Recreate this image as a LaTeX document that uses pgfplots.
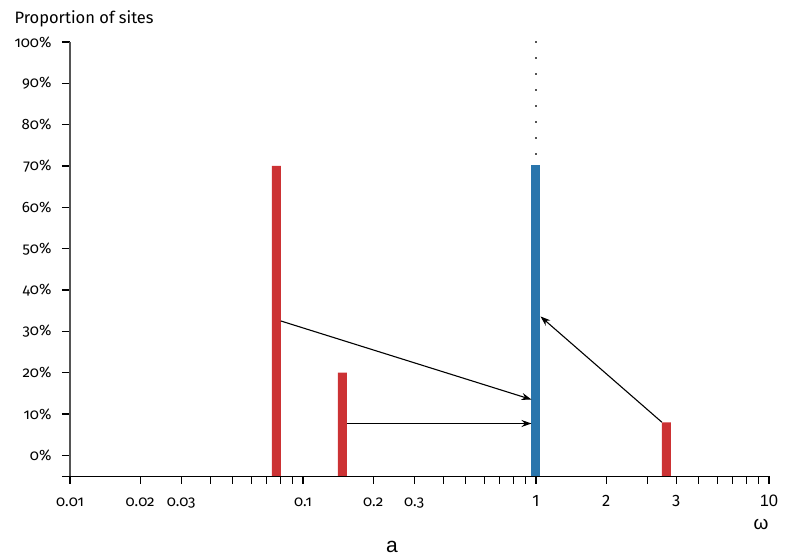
\documentclass[border=0pt]{standalone}
\usepackage{pgfplots}
\pgfplotsset{compat=1.18}
\usetikzlibrary{arrows.meta}
\usepackage{fontspec}
\setmainfont{Fira Sans}[Numbers=OldStyle]
\newfontfamily\arialfont{Liberation Sans}
\newcommand{\lin}[1]{{\fontsize{16.5bp}{18bp}\selectfont\addfontfeature{Numbers=Lining}#1}}
\definecolor{barred}{RGB}{204,50,52}
\definecolor{barblue}{RGB}{41,117,172}
\definecolor{axgray}{RGB}{85,85,85}
\begin{document}
\begin{tikzpicture}
\path[use as bounding box] (0,0) rectangle (785bp,555bp);
\begin{axis}[
  at={(70bp,79bp)}, anchor=south west,
  scale only axis, width=699bp, height=434bp,
  xmode=log, xmin=0.01, xmax=10,
  ymin=-5, ymax=100,
  y coord trafo/.code={\pgfmathparse{#1+5}},
  y coord inv trafo/.code={\pgfmathparse{#1-5}},
  axis x line=bottom, axis y line=left,
  x axis line style={-, black, line width=0.9bp, shorten <=-8bp},
  y axis line style={-, axgray, line width=1.2bp},
  xtick={0.01,0.02,0.03,0.04,0.05,0.06,0.07,0.08,0.09,0.1,0.2,0.3,0.4,0.5,0.6,0.7,0.8,0.9,1,2,3,4,5,6,7,8,9,10},
  xticklabels={0.01,0.02,0.03,,,,,,,0.1,0.2,0.3,,,,,,,\lin{1},\lin{2},,\lin{3},,,,,,{\arialfont\fontsize{16.5bp}{18bp}\selectfont 10}},
  minor xtick={},
  ytick={0,10,20,30,40,50,60,70,80,90,100},
  yticklabels={0\%,10\%,20\%,30\%,40\%,50\%,60\%,70\%,80\%,90\%,100\%},
  tick style={black, line width=1.2bp},
  xtick align=outside, ytick align=outside,
  major tick length=8bp,
  tick label style={font=\fontsize{15bp}{17bp}\selectfont},
  xticklabel style={yshift=-8bp, anchor=base, yshift=-14bp},
  yticklabel style={xshift=-7bp},
  clip=false,
]
\addplot[ybar, bar width=9bp, fill=barred, draw=none] coordinates {(0.0769,70) (0.1475,20) (3.63,8)};
\addplot[ybar, bar width=9bp, fill=barblue, draw=none] coordinates {(1,70.2)};
\addplot[axgray, line width=2bp, dash pattern=on 2bp off 14bp] coordinates {(1,100.2) (1,72)};
\draw[-{Stealth[length=10bp,width=7bp]}, line width=1.1bp] ([xshift=4.5bp]axis cs:0.0769,32.5) -- ([xshift=-4.5bp]axis cs:1,13.5);
\draw[-{Stealth[length=10bp,width=7bp]}, line width=1.1bp] ([xshift=4.5bp]axis cs:0.1475,7.7) -- ([xshift=-4.5bp]axis cs:1,7.7);
\draw[-{Stealth[length=10bp,width=7bp]}, line width=1.1bp] ([xshift=-4.5bp]axis cs:3.63,8) -- ([xshift=4.5bp]axis cs:1,33.6);
\end{axis}
\node[anchor=base west, font=\fontsize{16.5bp}{19bp}\selectfont] at (11bp,531bp) {Proportion of sites};
\node[anchor=base, font=\arialfont\fontsize{19bp}{21bp}\selectfont] at (761bp,26bp) {ω};
\node[anchor=base, font=\arialfont\fontsize{21bp}{23bp}\selectfont] at (392bp,3bp) {a};
\end{tikzpicture}
\end{document}
